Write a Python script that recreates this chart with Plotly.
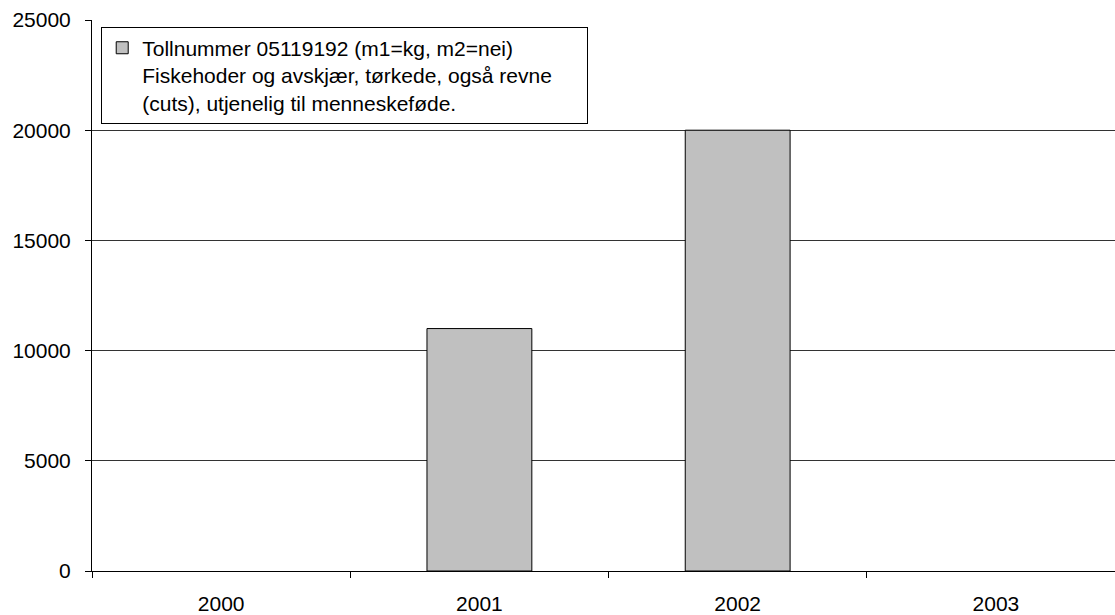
import plotly.graph_objects as go

# Data (no bars reported for 2000 and 2003)
years = ["2000", "2001", "2002", "2003"]
values = [None, 11000, 20000, None]
series_name = ("Tollnummer 05119192 (m1=kg, m2=nei)<br>"
               "Fiskehoder og avskjær, tørkede, også revne<br>"
               "(cuts), utjenelig til menneskeføde.")
y_ticks = [0, 5000, 10000, 15000, 20000, 25000]

FONT = "Liberation Sans, Arial, sans-serif"
FSIZE = 21

fig = go.Figure()
fig.add_trace(go.Bar(
    x=years,
    y=values,
    name=series_name,
    marker=dict(color="#C0C0C0", line=dict(color="#000000", width=1)),
    showlegend=True,
))

fig.update_layout(
    width=1115,
    height=615,
    margin=dict(l=92, r=0, t=20, b=42),
    paper_bgcolor="white",
    plot_bgcolor="white",
    font=dict(family=FONT, size=FSIZE, color="#000000"),
    bargap=0.594,
    showlegend=True,
    legend=dict(
        x=0.009, y=0.988, xanchor="left", yanchor="top",
        orientation="h",
        entrywidth=440,
        bgcolor="white", bordercolor="#000000", borderwidth=1,
        font=dict(family=FONT, size=FSIZE, color="#000000"),
        valign="top",
    ),
    xaxis=dict(
        type="category",
        range=[-0.5, 3.461],
        tickson="boundaries",
        ticks="outside",
        ticklen=6,
        tickcolor="#000000",
        ticklabelstandoff=14,
        showline=True,
        linecolor="#000000",
        linewidth=1,
        showgrid=False,
        tickfont=dict(family=FONT, size=FSIZE),
    ),
    yaxis=dict(
        range=[0, 25000],
        tickvals=y_ticks,
        ticktext=[str(v) for v in y_ticks],
        ticks="outside",
        ticklen=6,
        tickcolor="#000000",
        ticklabelstandoff=10,
        showline=True,
        linecolor="#000000",
        linewidth=1,
        showgrid=True,
        gridcolor="#333333",
        gridwidth=1,
        zeroline=False,
        tickfont=dict(family=FONT, size=FSIZE),
    ),
)

fig.write_html("out.html")
